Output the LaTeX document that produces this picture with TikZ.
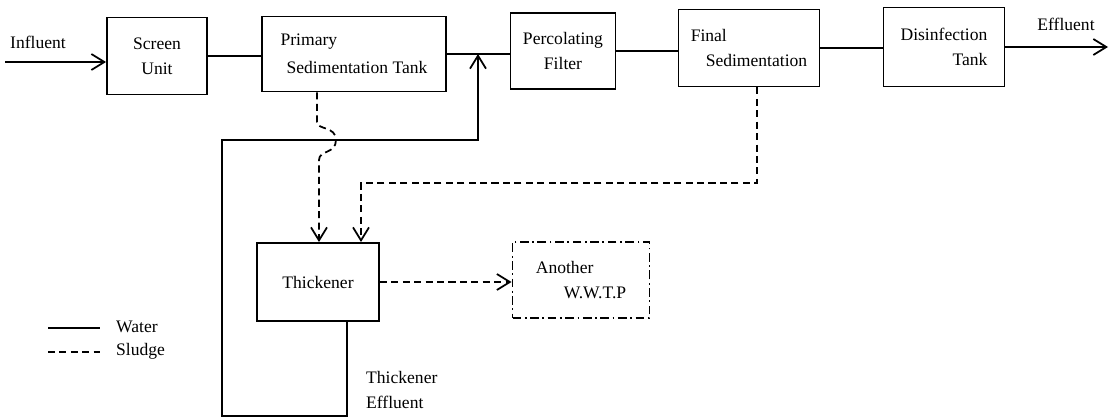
\documentclass[tikz,border=0pt]{standalone}
\usepackage{fontspec}
\setmainfont{Liberation Serif}
\usepackage{tikz}
\usetikzlibrary{arrows.meta}

\begin{document}
\begin{tikzpicture}[x=0.02cm, y=-0.02cm,
    every node/.style={font=\fontsize{10}{14}\selectfont},
    unit/.style={draw, line width=1.1pt, inner sep=2pt},
    water/.style={line width=1pt},
    sludge/.style={line width=1pt, dash pattern=on 4pt off 2.5pt},
    tip/.style={-{Straight Barb[length=2.6mm, width=3.2mm]}}]
  \useasboundingbox (0,0) rectangle (1110,419);

  % Main treatment line
  \node[unit, minimum width=2cm, minimum height=1.54cm, align=center] (screen) at (157,56) {Screen\\Unit};
  \node[unit, minimum width=3.68cm, minimum height=1.5cm, align=left] (prim) at (354,54) {Primary\\[2pt]\hspace{0.12cm}Sedimentation Tank};
  \node[unit, minimum width=2.1cm, minimum height=1.52cm, align=center] (perc) at (563,51) {Percolating\\Filter};
  \node[unit, minimum width=2.82cm, minimum height=1.54cm, align=left] (final) at (749,48) {Final\\\hspace{0.3cm}Sedimentation};
  \node[unit, minimum width=2.42cm, minimum height=1.58cm, align=right] (disinf) at (944,47) {Disinfection\\Tank};

  \coordinate (in) at (5,62);
  \coordinate (out) at (1108,47);
  \coordinate (join) at (478,0 |- prim.east);
  \node (influent) at (38,42) {Influent};
  \node (effluent) at (1066,24) {Effluent};

  \draw[water, tip] (in) -- (in -| screen.west);
  \draw[water] (screen.east) -- (screen.east -| prim.west);
  \draw[water] (prim.east) -- (prim.east -| perc.west);
  \draw[water] (perc.east) -- (perc.east -| final.west);
  \draw[water] (final.east) -- (final.east -| disinf.west);
  \draw[water, tip] (disinf.east) -- (out);

  % Sludge treatment
  \node[unit, minimum width=2.44cm, minimum height=1.56cm] (thick) at (318,282) {Thickener};
  \node[draw, line width=1.1pt, dash pattern=on 5pt off 2pt on 1pt off 2pt,
        minimum width=2.74cm, minimum height=1.52cm, align=left] (another) at (581,280)
        {Another\\\hspace{0.56cm}W.W.T.P};

  \draw[sludge, tip] (317,0 |- prim.south) -- (317,122)
    .. controls (317,130) and (336,126) .. (336,140)
    .. controls (336,154) and (319,150) .. (319,160) -- (319,0 |- thick.north);
  \draw[sludge, tip] (757,0 |- final.south) -- (757,183) -| (361,0 |- thick.north);
  \draw[sludge, tip] (thick.east) -- (thick.east -| another.west);

  % Thickener effluent back to the main line
  \draw[water, tip] (347,0 |- thick.south) -- (347,416) -| (222,140) -| (join);
  \node[align=left, anchor=west] (theff) at (360,390) {Thickener\\Effluent};

  % Legend
  \draw[water] (48,328) -- (100,328);
  \draw[sludge] (48,352) -- (100,352);
  \node[anchor=west] (lwater) at (110,327) {Water};
  \node[anchor=west] (lsludge) at (110,351) {Sludge};
\end{tikzpicture}
\end{document}
